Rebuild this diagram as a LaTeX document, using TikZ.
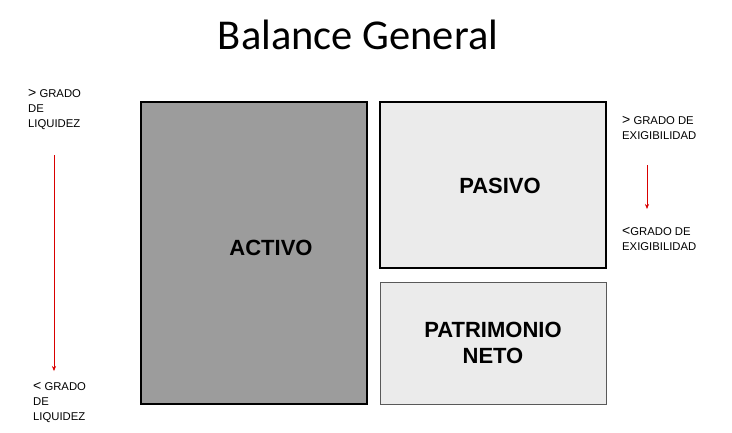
\documentclass[tikz,border=0pt]{standalone}
\usepackage{fontspec}
\setmainfont{Liberation Sans}
\newfontfamily\titlefont{Carlito}
\usetikzlibrary{arrows.meta}

\begin{document}
\begin{tikzpicture}[x=1pt,y=-1pt,
    cuenta/.style={draw=black,line width=2.6pt,inner sep=0pt,font=\fontsize{22}{26}\selectfont\bfseries,align=center},
    rotulo/.style={font=\fontsize{22}{26}\selectfont\bfseries},
    grado/.style={anchor=base west,align=left,inner sep=0pt,font=\fontsize{11.3}{15}\selectfont},
    flecha/.style={-{Stealth[length=5pt,width=4pt]},red!85!black,line width=0.6pt}]
  \useasboundingbox[fill=white] (0,0) rectangle (732,432);
  \node[font=\titlefont\fontsize{42.5}{42}\selectfont] (titulo) at (358,35) {Balance General};
  % cuentas
  \node[cuenta,fill=black!39,minimum width=226pt,minimum height=302pt] (activo) at (254,253) {};
  \node[rotulo] (activotxt) at (271,248) {ACTIVO};
  \node[cuenta,fill=black!8,minimum width=226pt,minimum height=166pt] (pasivo) at (493,185) {};
  \node[rotulo] (pasivotxt) at (500,186) {PASIVO};
  \node[cuenta,draw=black!65,line width=0.8pt,fill=black!8,minimum width=226pt,minimum height=122pt] (patrimonio) at (493,343) {PATRIMONIO\\NETO};
  % liquidez
  \node[grado] (liqalto) at (28,127) {{\fontsize{14}{15}\selectfont>} GRADO\\DE\\LIQUIDEZ};
  \node[grado] (liqbajo) at (33,420) {{\fontsize{14}{15}\selectfont<} GRADO\\DE\\LIQUIDEZ};
  \coordinate (liqini) at (54,155);
  \coordinate (liqfin) at (54,371);
  \draw[flecha] (liqini) -- (liqfin);
  % exigibilidad
  \node[grado] (exialto) at (622,139) {{\fontsize{14}{15}\selectfont>} GRADO DE\\EXIGIBILIDAD};
  \node[grado] (exibajo) at (622,250) {{\fontsize{14}{15}\selectfont<}GRADO DE\\EXIGIBILIDAD};
  \coordinate (exiini) at (647,165);
  \coordinate (exifin) at (647,209);
  \draw[flecha] (exiini) -- (exifin);
\end{tikzpicture}
\end{document}
